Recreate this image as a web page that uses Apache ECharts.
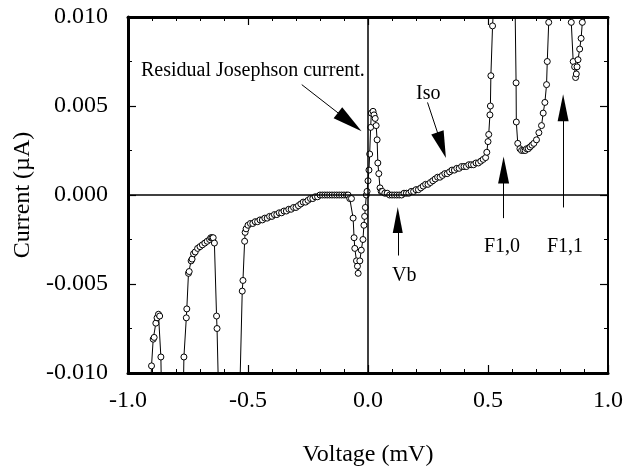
<!DOCTYPE html>
<html>
<head>
<meta charset="utf-8">
<script src="https://cdn.jsdelivr.net/npm/echarts@6/dist/echarts.min.js"></script>
<style>
  html, body { margin: 0; padding: 0; background: #fff; }
  #main { width: 626px; height: 474px; }
</style>
</head>
<body>
<div id="main"></div>
<script>
// voltage (mV) and current (uA); +-0.0115 = trace leaves the frame
var voltage = [
  -0.907, -0.902, -0.895, -0.891, -0.884, -0.879, -0.873, -0.868, -0.863, -0.860,
  -0.770, -0.767, -0.757, -0.755, -0.748, -0.745, -0.737, -0.733, -0.727, -0.72,
  -0.71, -0.70, -0.69, -0.68, -0.67, -0.66, -0.655, -0.65, -0.645, -0.640,
  -0.631, -0.629, -0.622,
  -0.535, -0.524, -0.521, -0.514, -0.512, -0.508,
  -0.50, -0.49, -0.48, -0.47, -0.46, -0.45, -0.44, -0.43, -0.42, -0.41,
  -0.40, -0.39, -0.38, -0.37, -0.36, -0.35, -0.34, -0.33, -0.32, -0.31,
  -0.30, -0.29, -0.28, -0.27, -0.26, -0.25, -0.24, -0.23, -0.22, -0.21,
  -0.20, -0.19, -0.18, -0.17, -0.16, -0.15, -0.14, -0.13, -0.12, -0.11,
  -0.10, -0.09, -0.083, -0.076, -0.069, -0.062, -0.058, -0.055, -0.048, -0.044,
  -0.041, -0.034, -0.028, -0.021, -0.017, -0.014, -0.011, -0.007, -0.004, 0.000,
  0.004, 0.007, 0.011, 0.014, 0.021, 0.025, 0.030, 0.034, 0.038, 0.041,
  0.045, 0.050, 0.055,
  0.06, 0.07, 0.08, 0.09, 0.10, 0.11, 0.12, 0.13, 0.14, 0.15,
  0.16, 0.17, 0.18, 0.19, 0.20, 0.21, 0.22, 0.23, 0.24, 0.25,
  0.26, 0.27, 0.28, 0.29, 0.30, 0.31, 0.32, 0.33, 0.34, 0.35,
  0.36, 0.37, 0.38, 0.39, 0.40, 0.41, 0.42, 0.43, 0.44, 0.45,
  0.46, 0.47, 0.48, 0.49, 0.495, 0.500, 0.503, 0.508, 0.510, 0.512,
  0.519, 0.523, 0.525,
  0.612, 0.617, 0.618, 0.624, 0.633, 0.640, 0.648, 0.655, 0.661, 0.668,
  0.675, 0.683, 0.691, 0.702, 0.712, 0.723, 0.730, 0.737, 0.744, 0.747,
  0.753, 0.756,
  0.838, 0.847, 0.855, 0.861, 0.865, 0.868, 0.871, 0.875, 0.882, 0.888,
  0.893, 0.896
];
var current = [
  -0.0115, -0.0096, -0.0081, -0.0080, -0.0072, -0.0069, -0.0067, -0.0068, -0.0091, -0.0115,
  -0.0115, -0.0091, -0.0069, -0.0064, -0.0044, -0.0043, -0.0037, -0.0036, -0.0033, -0.0032,
  -0.0030, -0.0029, -0.0028, -0.0027, -0.0026, -0.0025, -0.0024, -0.0024, -0.0024, -0.0027,
  -0.0068, -0.0075, -0.0115,
  -0.0115, -0.0054, -0.0048, -0.0026, -0.0021, -0.0019,
  -0.0017, -0.0016, -0.0016, -0.0015, -0.0015, -0.0014, -0.0014, -0.0013, -0.0013, -0.0012,
  -0.0012, -0.0011, -0.0011, -0.0010, -0.0010, -0.0009, -0.0009, -0.0008, -0.0008, -0.0007,
  -0.0007, -0.0006, -0.0005, -0.0004, -0.0004, -0.0003, -0.0002, -0.0002, -0.0001, -0.0001,
  0.0000, 0.0000, 0.0000, 0.0000, 0.0000, 0.0000, 0.0000, 0.0000, 0.0000, 0.0000,
  0.0000, 0.0000, 0.0000, -0.0002, -0.0002, -0.0013, -0.0024, -0.0030, -0.0037, -0.0040,
  -0.0044, -0.0037, -0.0031, -0.0025, -0.0017, -0.0012, -0.0007, 0.0000, 0.0002, 0.0008,
  0.0014, 0.0023, 0.0038, 0.0046, 0.0047, 0.0045, 0.0043, 0.0039, 0.0031, 0.0018,
  0.0012, 0.0004, 0.0002,
  0.0002, 0.0001, 0.0001, 0.0000, 0.0000, 0.0000, 0.0000, 0.0000, 0.0000, 0.0001,
  0.0001, 0.0001, 0.0002, 0.0002, 0.0003, 0.0003, 0.0004, 0.0005, 0.0006, 0.0006,
  0.0007, 0.0008, 0.0009, 0.0010, 0.0010, 0.0011, 0.0012, 0.0012, 0.0013, 0.0014,
  0.0014, 0.0015, 0.0015, 0.0016, 0.0016, 0.0016, 0.0017, 0.0017, 0.0017, 0.0018,
  0.0018, 0.0019, 0.0020, 0.0021, 0.0024, 0.0030, 0.0034, 0.0045, 0.0050, 0.0067,
  0.0095, 0.0105, 0.0115,
  0.0115, 0.0063, 0.0041, 0.0029, 0.0026, 0.0025, 0.0025, 0.0025, 0.0026, 0.0026,
  0.0027, 0.0028, 0.0029, 0.0031, 0.0035, 0.0039, 0.0046, 0.0052, 0.0062, 0.0075,
  0.0097, 0.0115,
  0.0115, 0.0097, 0.0075, 0.0072, 0.0066, 0.0068, 0.0072, 0.0076, 0.0082, 0.0088,
  0.0097, 0.0115
];

// arrows: tail point and arrowhead centre, in data units
var arrowTail = [[-0.276, 0.0062], [0.248, 0.0052], [0.124, -0.0034], [0.565, -0.0013], [0.813, -0.0007]];
var arrowHead = [[-0.076, 0.0041], [0.307, 0.0028], [0.124, -0.0014], [0.565, 0.0014], [0.813, 0.0049]];
var headSize = [[14, 30], [13, 27], [10, 26], [11, 27], [11, 27]];

var xTicks = [-1.0, -0.5, 0.0, 0.5, 1.0];
var yTicks = [-0.010, -0.005, 0.000, 0.005, 0.010];

var serif = 'Liberation Serif';
var points = voltage.map(function (v, i) { return [v, current[i]]; });
var headPath = 'path://M5,0 L10,28 L0,28 Z';

var arrowLines = arrowTail.map(function (t, i) {
    return [
        { coord: t, symbol: 'none' },
        { coord: arrowHead[i], symbol: headPath, symbolSize: headSize[i] }
    ];
});

function frameAxis(pos, extra) {
    var a = {
        type: 'value',
        position: pos,
        axisLine: { show: true, onZero: false, lineStyle: { color: '#000', width: 3 } },
        axisTick: { show: true, inside: true, length: 8, lineStyle: { color: '#000', width: 1.2 } },
        minorTick: { show: true, length: 4, lineStyle: { color: '#000', width: 1 } },
        splitLine: { show: false },
        minorSplitLine: { show: false }
    };
    for (var k in extra) a[k] = extra[k];
    return a;
}

var myChart = echarts.init(document.getElementById('main'));
var option = {
    animation: false,
    backgroundColor: '#fff',
    textStyle: { fontFamily: serif, color: '#000' },
    grid: { left: 128, right: 14, top: 17, bottom: 101 },
    xAxis: [
        frameAxis('bottom', {
            min: xTicks[0], max: xTicks[xTicks.length - 1], interval: 0.5,
            minorTick: { show: true, splitNumber: 5, length: 4, lineStyle: { color: '#000', width: 1 } },
            axisLabel: {
                color: '#000', fontFamily: serif, fontSize: 24, margin: 16,
                formatter: function (v) { return v.toFixed(1); }
            },
            name: 'Voltage (mV)', nameLocation: 'middle', nameGap: 70,
            nameTextStyle: { color: '#000', fontFamily: serif, fontSize: 24, fontWeight: 'normal' }
        }),
        frameAxis('top', {
            min: xTicks[0], max: xTicks[xTicks.length - 1], interval: 0.5,
            minorTick: { show: true, splitNumber: 5, length: 4, lineStyle: { color: '#000', width: 1 } },
            axisLabel: { show: false }
        })
    ],
    yAxis: [
        frameAxis('left', {
            min: yTicks[0], max: yTicks[yTicks.length - 1], interval: 0.005,
            minorTick: { show: true, splitNumber: 2, length: 4, lineStyle: { color: '#000', width: 1 } },
            axisLabel: {
                color: '#000', fontFamily: serif, fontSize: 24, margin: 20,
                formatter: function (v) { return v.toFixed(3); }
            },
            name: 'Current (\u00b5A)', nameLocation: 'middle', nameGap: 86,
            nameTextStyle: { color: '#000', fontFamily: serif, fontSize: 24, fontWeight: 'normal' }
        }),
        frameAxis('right', {
            min: yTicks[0], max: yTicks[yTicks.length - 1], interval: 0.005,
            axisLine: { show: true, onZero: false, lineStyle: { color: '#000', width: 2 } },
            minorTick: { show: true, splitNumber: 2, length: 4, lineStyle: { color: '#000', width: 1 } },
            axisLabel: { show: false }
        })
    ],
    series: [
        {
            type: 'line',
            data: points,
            clip: true,
            showAllSymbol: true,
            symbol: 'circle',
            symbolSize: 6,
            lineStyle: { color: '#000', width: 1 },
            itemStyle: { color: '#fff', borderColor: '#000', borderWidth: 1 },
            markLine: {
                silent: true,
                symbol: 'none',
                label: { show: false },
                lineStyle: { color: '#000', width: 1.5, type: 'solid' },
                data: [{ yAxis: 0 }, { xAxis: 0 }]
            },
            z: 3
        },
        {
            // annotation arrows
            type: 'line',
            data: [],
            markLine: {
                silent: true,
                label: { show: false },
                lineStyle: { color: '#000', width: 1, type: 'solid' },
                itemStyle: { color: '#000' },
                data: arrowLines
            },
            z: 4
        }
    ],
    graphic: [
        { type: 'text', left: 141, top: 61, style: { text: 'Residual Josephson current.', font: '20px ' + serif, fill: '#000' } },
        { type: 'text', left: 416, top: 84, style: { text: 'Iso', font: '20px ' + serif, fill: '#000' } },
        { type: 'text', left: 392, top: 266, style: { text: 'Vb', font: '20px ' + serif, fill: '#000' } },
        { type: 'text', left: 484, top: 237, style: { text: 'F1,0', font: '20px ' + serif, fill: '#000' } },
        { type: 'text', left: 547, top: 237, style: { text: 'F1,1', font: '20px ' + serif, fill: '#000' } }
    ]
};
myChart.setOption(option);
</script>
</body>
</html>
